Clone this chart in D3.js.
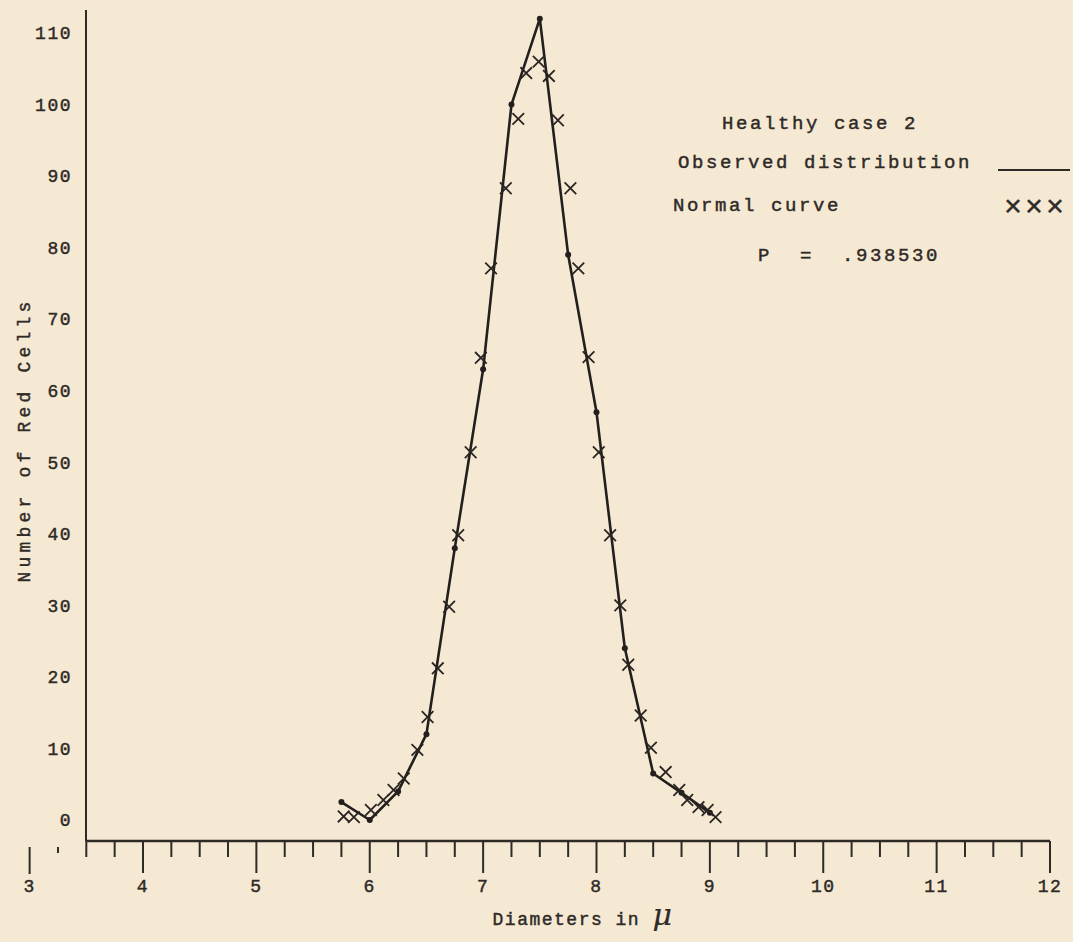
<!DOCTYPE html>
<html lang="en">
<head>
<meta charset="UTF-8">
<title>Healthy case 2</title>
<script src="https://d3js.org/d3.v7.min.js"></script>
<style>
  html, body { margin: 0; padding: 0; background: #f5e9d4; }
  svg { display: block; }
  text { font-family: "Liberation Mono", "DejaVu Sans Mono", monospace; fill: #2f2a26;
         stroke: #2f2a26; stroke-width: 0.45px; }
</style>
</head>
<body>
<div id="chart"></div>
<script>
// observed distribution (quarter-micron classes)
const obsDiam = [5.75, 6.0, 6.25, 6.5, 6.75, 7.0, 7.25, 7.5, 7.75, 8.0, 8.25, 8.5, 8.75, 9.0];
const obsCount = [2.5, 0, 4, 12, 38, 63, 100, 112, 79, 57, 24, 6.5, 3.8, 1];

// normal curve points (crosses)
const normDiam = [5.77, 5.86, 6.01, 6.12, 6.21, 6.30, 6.42, 6.51, 6.60, 6.70, 6.78, 6.89, 6.98, 7.07,
  7.20, 7.31, 7.38, 7.49, 7.58, 7.66, 7.77, 7.84, 7.93, 8.02, 8.12, 8.21, 8.28, 8.39, 8.48,
  8.61, 8.73, 8.80, 8.90, 8.98, 9.05];
const normCount = [0.5, 0.4, 1.4, 2.8, 4.2, 5.8, 9.8, 14.4, 21.2, 29.8, 39.8, 51.4, 64.6, 77.1,
  88.3, 98, 104.4, 106, 104, 97.8, 88.3, 77.1, 64.7, 51.4, 39.8, 30, 21.7, 14.6, 10.1,
  6.7, 4.2, 2.8, 1.8, 1.4, 0.4];

const xTickLabels = [3, 4, 5, 6, 7, 8, 9, 10, 11, 12];
const yTickLabels = [0, 10, 20, 30, 40, 50, 60, 70, 80, 90, 100, 110];

const width = 1073, height = 942;
const axisY = 841, axisX = 86;

const svg = d3.select("#chart").append("svg")
  .attr("width", width)
  .attr("height", height);

const x = d3.scaleLinear().domain([4, 12]).range([143, 1050]);
const y = d3.scaleLinear().domain([0, 110]).range([820, 33]);

// y axis: plain line and labels, no ticks
svg.append("line")
  .attr("x1", axisX).attr("x2", axisX)
  .attr("y1", 10).attr("y2", axisY)
  .attr("stroke", "#2e2a26").attr("stroke-width", 2);

svg.append("g").selectAll("text")
  .data(yTickLabels)
  .enter().append("text")
  .attr("x", 72)
  .attr("y", d => y(d))
  .attr("dy", "0.35em")
  .attr("text-anchor", "end")
  .attr("font-size", 18)
  .attr("letter-spacing", 1.5)
  .text(d => d);

// x axis: line from 3.5, quarter ticks from 3 to 12
svg.append("line")
  .attr("x1", x(3.5)).attr("x2", x(12))
  .attr("y1", axisY).attr("y2", axisY)
  .attr("stroke", "#2e2a26").attr("stroke-width", 2.5);

const quarterTicks = d3.range(3, 12.01, 0.25);
svg.append("g").selectAll("line")
  .data(quarterTicks)
  .enter().append("line")
  .attr("x1", d => x(d)).attr("x2", d => x(d))
  .attr("y1", d => d < 3.5 ? axisY + 6 : axisY)
  .attr("y2", d => {
    const major = Math.abs(d - Math.round(d)) < 1e-6;
    if (d < 3.5) return major ? axisY + 33 : axisY + 12;
    return major ? axisY + 32 : axisY + 16;
  })
  .attr("stroke", "#2e2a26").attr("stroke-width", 2);

svg.append("g").selectAll("text")
  .data(xTickLabels)
  .enter().append("text")
  .attr("x", d => x(d))
  .attr("y", 892)
  .attr("text-anchor", "middle")
  .attr("font-size", 18)
  .attr("letter-spacing", 1.5)
  .text(d => d);

// axis titles
const xt = svg.append("text")
  .attr("x", 583).attr("y", 925)
  .attr("text-anchor", "middle")
  .attr("font-size", 18)
  .attr("letter-spacing", 1.5);
xt.append("tspan").text("Diameters in ");
xt.append("tspan").attr("font-size", 30).attr("font-style", "italic")
  .attr("font-family", "DejaVu Serif, serif").attr("stroke-width", 0.2).text("\u03bc");

svg.append("text")
  .attr("transform", "translate(30,440) rotate(-90)")
  .attr("text-anchor", "middle")
  .attr("font-size", 18)
  .attr("letter-spacing", 4.2)
  .text("Number of Red Cells");

// observed distribution line
const line = d3.line()
  .x(d => x(d[0]))
  .y(d => y(d[1]));

const obs = obsDiam.map((d, i) => [d, obsCount[i]]);
const norm = normDiam.map((d, i) => [d, normCount[i]]);

svg.append("path")
  .datum(obs)
  .attr("fill", "none")
  .attr("stroke", "#231f1c")
  .attr("stroke-width", 2.6)
  .attr("stroke-linejoin", "round")
  .attr("d", line);

svg.append("g").selectAll("circle")
  .data(obs)
  .enter().append("circle")
  .attr("cx", d => x(d[0]))
  .attr("cy", d => y(d[1]))
  .attr("r", 3)
  .attr("fill", "#231f1c");

// normal curve crosses
const timesType = d3.symbolTimes || {
  draw(ctx, size) {
    const r = Math.sqrt(size) / 2;
    ctx.moveTo(-r, -r); ctx.lineTo(r, r);
    ctx.moveTo(-r, r); ctx.lineTo(r, -r);
  }
};
const cross = d3.symbol().type(timesType).size(90);

svg.append("g").selectAll("path")
  .data(norm)
  .enter().append("path")
  .attr("transform", d => "translate(" + x(d[0]) + "," + y(d[1]) + ")")
  .attr("d", cross)
  .attr("fill", "none")
  .attr("stroke", "#2a2522")
  .attr("stroke-width", 1.8);

// legend
const legend = svg.append("g").attr("font-size", 19).attr("letter-spacing", 2.6);
legend.append("text").attr("x", 722).attr("y", 129).text("Healthy case 2");
legend.append("text").attr("x", 678).attr("y", 168).text("Observed distribution");
legend.append("text").attr("x", 673).attr("y", 211).text("Normal curve");
legend.append("text").attr("x", 758).attr("y", 261).attr("xml:space", "preserve")
  .style("white-space", "pre").text("P  =  .938530");

svg.append("line")
  .attr("x1", 998).attr("x2", 1070)
  .attr("y1", 170).attr("y2", 170)
  .attr("stroke", "#2e2a26").attr("stroke-width", 2.2);

svg.append("text")
  .attr("x", 1004).attr("y", 216)
  .attr("font-size", 30)
  .attr("letter-spacing", 3)
  .attr("stroke-width", 0.2)
  .attr("font-family", "DejaVu Sans, sans-serif")
  .text("\u00d7\u00d7\u00d7");
</script>
</body>
</html>
